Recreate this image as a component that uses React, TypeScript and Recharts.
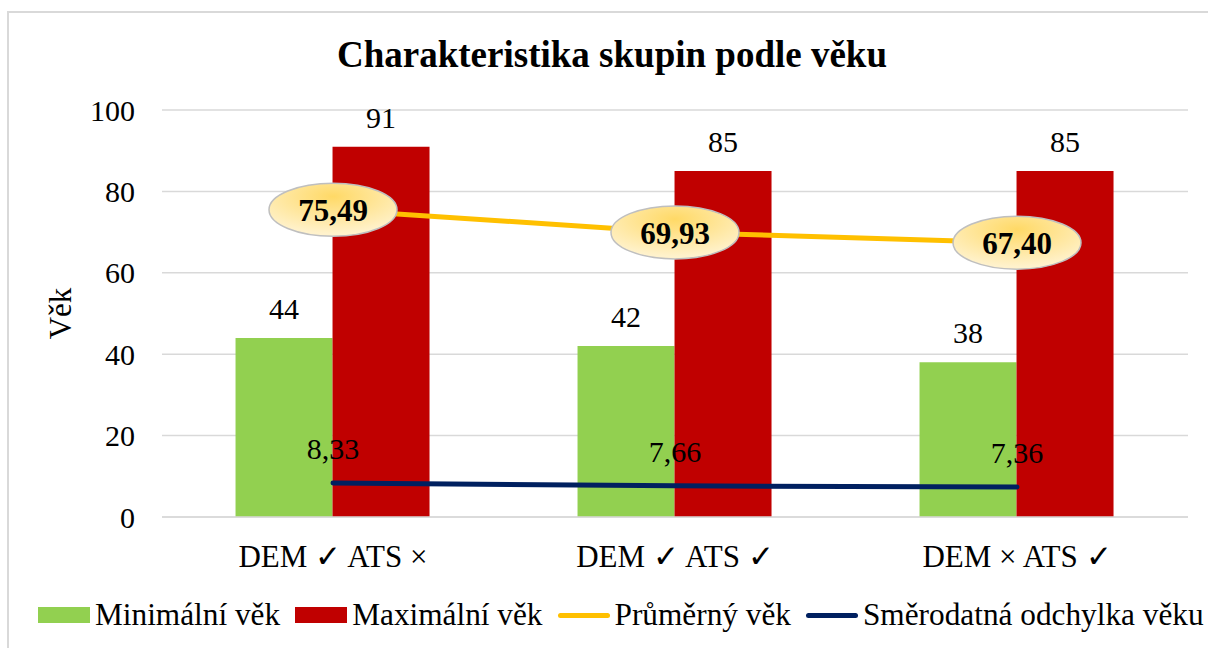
import React from 'react';
import {
  ComposedChart,
  Bar,
  Line,
  XAxis,
  YAxis,
  CartesianGrid,
  LabelList,
} from 'recharts';

const CATEGORIES = ['DEM ✓ ATS ×', 'DEM ✓ ATS ✓', 'DEM × ATS ✓'];
const MIN_AGE = [44, 42, 38];
const MAX_AGE = [91, 85, 85];
const AVG_AGE = [75.49, 69.93, 67.4];
const STD_AGE = [8.33, 7.66, 7.36];
const Y_TICKS = [0, 20, 40, 60, 80, 100];

const SERIES = [
  { key: 'min', name: 'Minimální věk', color: '#92d050', type: 'bar' },
  { key: 'max', name: 'Maximální věk', color: '#c00000', type: 'bar' },
  { key: 'avg', name: 'Průměrný věk', color: '#ffc000', type: 'line' },
  { key: 'std', name: 'Směrodatná odchylka věku', color: '#002060', type: 'line' },
];

const FONT = 'Liberation Serif';

const data = CATEGORIES.map((name, i) => ({
  name,
  min: MIN_AGE[i],
  max: MAX_AGE[i],
  avg: AVG_AGE[i],
  std: STD_AGE[i],
}));

const fmt2 = (v: number) => v.toFixed(2).replace('.', ',');

function YLabel(props: any) {
  const { viewBox } = props;
  const cx = viewBox.x + 18;
  const cy = viewBox.y + viewBox.height / 2;
  return (
    <text
      x={cx}
      y={cy}
      transform={`rotate(-90 ${cx} ${cy})`}
      textAnchor="middle"
      dominantBaseline="central"
      style={{ fontFamily: FONT, fontSize: 31 }}
      fill="#000"
    >
      Věk
    </text>
  );
}

// ellipse "callout" for the average values
function AvgLabel(props: any) {
  const { x, y, value } = props;
  return (
    <g>
      <ellipse cx={x} cy={y} rx={64} ry={26.5} fill="url(#avgFill)" stroke="#bfbfbf" strokeWidth={1.5} />
      <text
        x={x}
        y={y + 1}
        textAnchor="middle"
        dominantBaseline="central"
        style={{ fontFamily: FONT, fontSize: 31, fontWeight: 'bold' }}
        fill="#000"
      >
        {fmt2(Number(value))}
      </text>
    </g>
  );
}

function LegendRow() {
  return (
    <div
      style={{
        position: 'absolute',
        left: 38,
        top: 597,
        display: 'flex',
        alignItems: 'center',
        fontFamily: FONT,
        fontSize: 31.3,
        color: '#000',
        whiteSpace: 'nowrap',
      }}
    >
      {SERIES.map((s) => (
        <div key={s.key} style={{ display: 'flex', alignItems: 'center', marginRight: 15 }}>
          {s.type === 'bar' ? (
            <span style={{ display: 'inline-block', width: 52, height: 16, background: s.color, marginRight: 5 }} />
          ) : (
            <span style={{ display: 'inline-block', width: 52, height: 5, borderRadius: 3, background: s.color, marginRight: 5 }} />
          )}
          <span>{s.name}</span>
        </div>
      ))}
    </div>
  );
}

export default function App() {
  return (
    <div style={{ position: 'absolute', left: 0, top: 0, width: 1208, height: 648, overflow: 'hidden', background: '#fff' }}>
      <div
        style={{
          position: 'absolute',
          left: 7,
          top: 11,
          width: 1220,
          height: 660,
          border: '2px solid #d9d9d9',
          boxSizing: 'border-box',
        }}
      />
      <div
        style={{
          position: 'absolute',
          left: 0,
          top: 33,
          width: 1224,
          textAlign: 'center',
          fontFamily: FONT,
          fontWeight: 'bold',
          fontSize: 37,
          color: '#000',
        }}
      >
        Charakteristika skupin podle věku
      </div>
      <ComposedChart
        width={1208}
        height={648}
        data={data}
        margin={{ top: 110, right: 20, bottom: 81, left: 42 }}
        barCategoryGap="21.5%"
        barGap={0}
        style={{ position: 'absolute', left: 0, top: 0 }}
      >
        <defs>
          <radialGradient id="avgFill" cx="50%" cy="25%" r="70%">
            <stop offset="0%" stopColor="#ffd966" />
            <stop offset="100%" stopColor="#fff2cc" />
          </radialGradient>
        </defs>
        <CartesianGrid vertical={false} stroke="#d9d9d9" strokeWidth={1.5} />
        <XAxis
          dataKey="name"
          height={50}
          axisLine={{ stroke: '#d9d9d9', strokeWidth: 1.5 }}
          tickLine={false}
          tickSize={6}
          tickMargin={22}
          tick={{ fill: '#000', style: { fontFamily: FONT, fontSize: 31 } } as any}
          interval={0}
        />
        <YAxis
          width={120}
          domain={[0, 100]}
          ticks={Y_TICKS}
          axisLine={false}
          tickLine={false}
          tickSize={6}
          tickMargin={21}
          tick={{ fill: '#000', style: { fontFamily: FONT, fontSize: 30 } } as any}
          label={<YLabel />}
        />
        <Bar dataKey="min" name="Minimální věk" fill="#92d050" isAnimationActive={false}>
          <LabelList dataKey="min" position="top" offset={19} style={{ fontFamily: FONT, fontSize: 30, fill: '#000' }} />
        </Bar>
        <Bar dataKey="max" name="Maximální věk" fill="#c00000" isAnimationActive={false}>
          <LabelList dataKey="max" position="top" offset={19} style={{ fontFamily: FONT, fontSize: 30, fill: '#000' }} />
        </Bar>
        <Line
          dataKey="std"
          name="Směrodatná odchylka věku"
          stroke="#002060"
          strokeWidth={5}
          strokeLinecap="round"
          dot={false}
          type="linear"
          isAnimationActive={false}
        >
          <LabelList
            dataKey="std"
            position="top"
            offset={24}
            formatter={(v: any) => fmt2(Number(v))}
            style={{ fontFamily: FONT, fontSize: 30, fill: '#000' }}
          />
        </Line>
        <Line
          dataKey="avg"
          name="Průměrný věk"
          stroke="#ffc000"
          strokeWidth={5}
          strokeLinecap="round"
          dot={false}
          type="linear"
          isAnimationActive={false}
        >
          <LabelList dataKey="avg" content={<AvgLabel />} />
        </Line>
      </ComposedChart>
      <LegendRow />
    </div>
  );
}
